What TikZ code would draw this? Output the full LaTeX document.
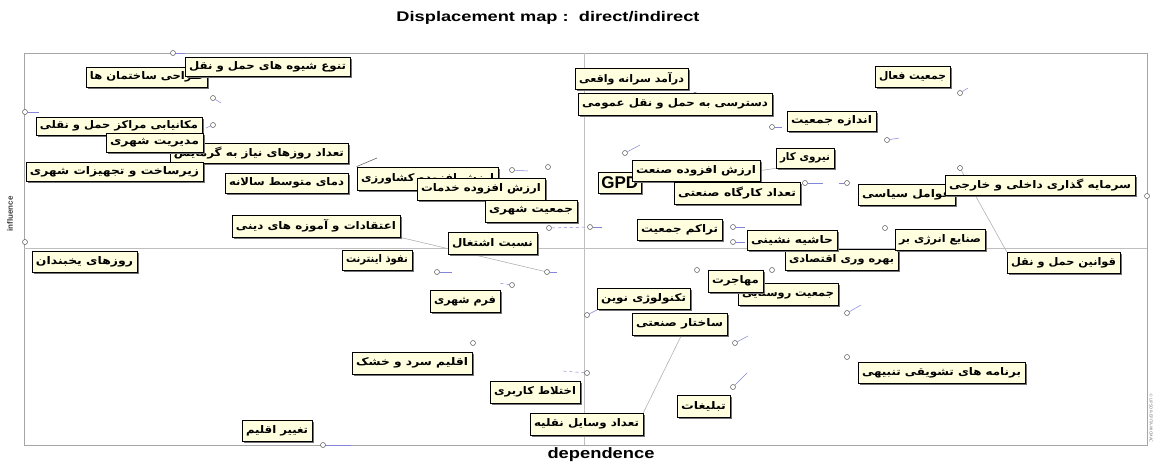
\documentclass[tikz,border=0pt]{standalone}
\usepackage{fontspec}
\usepackage{graphicx}
\setmainfont{DejaVu Sans}
\newfontfamily\arabicfont[Script=Arabic]{DejaVu Sans}
\newfontfamily\arialf{Liberation Sans}
\TeXXeTstate=1
\usetikzlibrary{shadows,backgrounds}
\definecolor{cream}{RGB}{255,255,224}
\definecolor{tickblue}{RGB}{80,80,200}
\tikzset{
  lbl/.style={draw=black, line width=0.8pt, fill=cream, inner sep=0pt,
    drop shadow={shadow xshift=2pt, shadow yshift=-2pt, fill=black!55, opacity=1}},
  mk/.style={circle, draw=gray!70!black, line width=0.5pt, fill=white, inner sep=0pt, minimum size=5pt},
  tk/.style={draw=tickblue!70, line width=0.5pt},
  lead/.style={draw=gray!60, line width=0.6pt},
  axisline/.style={draw=gray!50, line width=0.6pt},
  frameline/.style={draw=gray!70, line width=1pt},
}
\newcommand\plab[6]{%
  \pgfmathsetmacro\plabw{#4-#2-8}%
  \node[lbl, minimum width={#4-#2}, minimum height={#5-#3}] (#1) at ({(#2+#4)/2},{(#3+#5)/2})
    {\resizebox{\plabw pt}{\height}{\arabicfont\bfseries\fontsize{10.5}{12}\selectfont #6}};}
\begin{document}
\begin{tikzpicture}[x=1pt,y=-1pt]
\useasboundingbox (0,0) rectangle (1155,463);
% markers
\node[mk] (m1) at (173,53) {};
\node[mk] (m2) at (213,98) {};
\node[mk] (m3) at (213,125) {};
\node[mk] (m4) at (25,112) {};
\node[mk] (m5) at (178,155) {};
\node[mk] (m6) at (512,170) {};
\node[mk] (m7) at (548,167) {};
\node[mk] (m8a) at (549,228) {};
\node[mk] (m8) at (590,227) {};
\node[mk] (m9) at (547,272) {};
\node[mk] (m10) at (437,272) {};
\node[mk] (m11) at (25,242) {};
\node[mk] (m12) at (512,285) {};
\node[mk] (m13) at (473,343) {};
\node[mk] (m14) at (587,373) {};
\node[mk] (m15) at (323,445) {};
\node[mk] (m16) at (587,315) {};
\node[mk] (m17) at (735,343) {};
\node[mk] (m18) at (733,387) {};
\node[mk] (m19) at (847,357) {};
\node[mk] (m20) at (847,313) {};
\node[mk] (m21) at (697,270) {};
\node[mk] (m22) at (772,270) {};
\node[mk] (m23) at (733,227) {};
\node[mk] (m24) at (733,242) {};
\node[mk] (m26) at (885,228) {};
\node[mk] (m27) at (847,183) {};
\node[mk] (m29) at (805,183) {};
\node[mk] (m30) at (625,153) {};
\node[mk] (m31) at (772,127) {};
\node[mk] (m32) at (695,95) {};
\node[mk] (m33) at (887,140) {};
\node[mk] (m34) at (960,93) {};
\node[mk] (m35) at (960,168) {};
\node[mk] (m36) at (1147,196) {};
% ticks
\draw[tk] (m1) -- ++(12,0);
\draw[tk] (m2) -- ++(8,5);
\draw[tk] (m3) -- ++(-7,3);
\draw[tk] (m4) -- ++(14,0);
\draw[tk, dashed] (m5) -- ++(16,0);
\draw[tk] (m6) -- ++(16,1);
\draw[tk, dashed] (m8a) -- (m8);
\draw[tk] (m8) -- ++(12,0);
\draw[tk] (m9) -- ++(10,0);
\draw[tk] (m10) -- ++(15,0);
\draw[tk, dashed] (m12) -- ++(-13,-2);
\draw[tk, dashed] (m14) -- ++(-25,-2);
\draw[tk] (m15) -- ++(28,0);
\draw[tk] (m16) -- ++(10,-5);
\draw[tk] (m17) -- ++(13,-7);
\draw[tk] (m18) -- ++(14,-14);
\draw[tk] (m20) -- ++(14,-8);
\draw[tk] (m23) -- ++(12,0);
\draw[tk] (m24) -- ++(12,0);
\draw[tk] (m27) -- ++(-8,0);
\draw[tk] (m29) -- ++(18,0);
\draw[tk] (m30) -- ++(15,-8);
\draw[tk] (m31) -- ++(10,0);
\draw[tk] (m33) -- ++(12,-2);
\draw[tk] (m34) -- ++(8,-5);
% labels
\plab{l2}{86}{67}{207}{87}{\beginR طراحی ساختمان ها\endR}
\plab{l1}{185}{57}{350}{76}{\beginR تنوع شیوه های حمل و نقل\endR}
\plab{l3}{36}{117}{202}{135}{\beginR مکانیابی مراکز حمل و نقلی\endR}
\plab{l5}{170}{143}{348}{163}{\beginR تعداد روزهای نیاز به گرمایش\endR}
\plab{l4}{106}{133}{203}{152}{\beginR مدیریت شهری\endR}
\plab{l6}{26}{162}{203}{181}{\beginR زیرساخت و تجهیزات شهری\endR}
\plab{l7}{225}{173}{348}{193}{\beginR دمای متوسط سالانه\endR}
\plab{l8}{357}{167}{498}{190}{\beginR ارزش افزوده کشاورزی\endR}
\plab{l9}{417}{178}{545}{200}{\beginR ارزش افزوده خدمات\endR}
\plab{l10}{485}{200}{577}{222}{\beginR جمعیت شهری\endR}
\plab{l11}{232}{215}{400}{237}{\beginR اعتقادات و آموزه های دینی\endR}
\plab{l12}{448}{232}{537}{254}{\beginR نسبت اشتغال\endR}
\plab{l13}{342}{250}{412}{270}{\beginR نفوذ اینترنت\endR}
\plab{l14}{32}{251}{137}{272}{\beginR روزهای یخبندان\endR}
\plab{l15}{430}{290}{500}{312}{\beginR فرم شهری\endR}
\plab{l16}{352}{352}{472}{374}{\beginR اقلیم سرد و خشک\endR}
\plab{l17}{490}{381}{580}{403}{\beginR اختلاط کاربری\endR}
\plab{l18}{530}{413}{643}{435}{\beginR تعداد وسایل نقلیه\endR}
\plab{l19}{242}{420}{312}{441}{\beginR تغییر اقلیم\endR}
\plab{l20}{575}{68}{688}{89}{\beginR درآمد سرانه واقعی\endR}
\plab{l21}{578}{93}{772}{115}{\beginR دسترسی به حمل و نقل عمومی\endR}
\plab{l22}{787}{111}{876}{131}{\beginR اندازه جمعیت\endR}
\plab{l23}{875}{66}{950}{87}{\beginR جمعیت فعال\endR}
\plab{l24}{776}{148}{834}{168}{\beginR نیروی کار\endR}
\node[lbl, minimum height=21, anchor=west, inner xsep=3pt, font=\arialf\bfseries\fontsize{17}{18}\selectfont] (l26) at (598,182.5) {GPD};
\plab{l25}{632}{160}{760}{181}{\beginR ارزش افزوده صنعت\endR}
\plab{l27}{674}{182}{800}{204}{\beginR تعداد کارگاه صنعتی\endR}
\plab{l28}{858}{184}{955}{205}{\beginR عوامل سیاسی\endR}
\plab{l29}{945}{175}{1135}{195}{\beginR سرمایه گذاری داخلی و خارجی\endR}
\plab{l30}{637}{219}{722}{240}{\beginR تراکم جمعیت\endR}
\plab{l33}{785}{249}{898}{270}{\beginR بهره وری اقتصادی\endR}
\plab{l31}{747}{230}{837}{250}{\beginR حاشیه نشینی\endR}
\plab{l32}{895}{229}{985}{250}{\beginR صنایع انرژی بر\endR}
\plab{l34}{1007}{252}{1120}{273}{\beginR قوانین حمل و نقل\endR}
\plab{l36}{738}{283}{838}{305}{\beginR جمعیت روستایی\endR}
\plab{l35}{708}{270}{763}{292}{\beginR مهاجرت\endR}
\plab{l37}{597}{288}{690}{309}{\beginR تکنولوژی نوین\endR}
\plab{l38}{632}{313}{727}{335}{\beginR ساختار صنعتی\endR}
\plab{l39}{858}{362}{1025}{383}{\beginR برنامه های تشویقی تنبیهی\endR}
\plab{l40}{677}{395}{730}{417}{\beginR تبلیغات\endR}
% titles
\node (title) at (548,18) {\resizebox{303pt}{\height}{\arialf\bfseries\fontsize{14}{16}\selectfont Displacement map :\ \ direct/indirect}};
\node (xlab) at (601,455) {\resizebox{107pt}{\height}{\arialf\bfseries\fontsize{15}{16}\selectfont dependence}};
\node[rotate=90, text=black!75] (ylab) at (10,214) {\arialf\bfseries\fontsize{8}{9}\selectfont influence};
\node[rotate=-90, text=gray] (copy) at (1151,418) {\fontsize{4}{5}\selectfont © LIPSOR-EPITA-MICMAC};
% background: frame, axes, leaders
\begin{scope}[on background layer]
  \fill[white] (0,0) rectangle (1155,463);
  \coordinate (fa) at (24,53);
  \coordinate (fb) at (1147,445);
  \draw[frameline] (fa) rectangle (fb);
  \coordinate (vx1) at (584,53);
  \coordinate (vx2) at (584,445);
  \coordinate (hy1) at (24,248);
  \coordinate (hy2) at (1147,248);
  \draw[axisline] (vx1) -- (vx2);
  \draw[axisline] (hy1) -- (hy2);
  \coordinate (c8) at (377,158);
  \coordinate (c18) at (686,326);
  \draw[lead] (l11.south east) -- (m9);
  \draw[lead] (m35) -- (l34.north west);
  \draw[lead] (l18.north east) -- (c18);
  \draw[lead, draw=gray!80!black] (l8.north west) -- (c8);
  \draw[lead] (l25.east) -- (l24.south west);
\end{scope}
\end{tikzpicture}
\end{document}
